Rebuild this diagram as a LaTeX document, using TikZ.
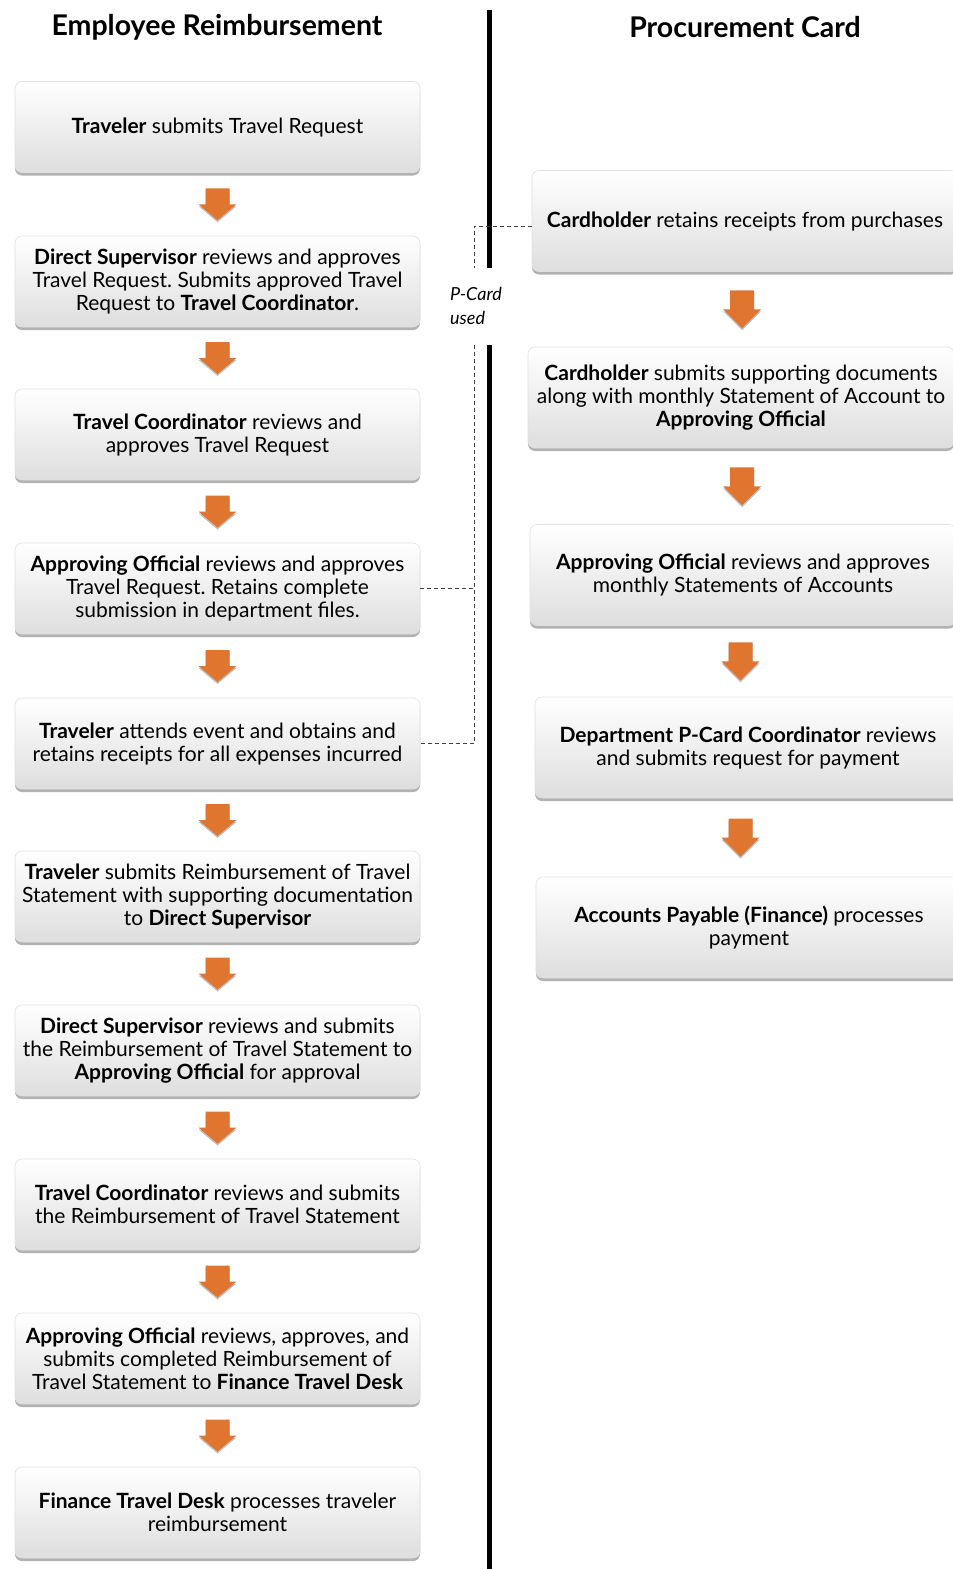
\documentclass[tikz,border=0pt]{standalone}
\usepackage{fontspec}
\setmainfont{Lato}
\usetikzlibrary{calc,shadows}
\definecolor{arroworange}{HTML}{E07530}
\frenchspacing
\tikzset{
  stepbox/.style={rounded corners=7pt, draw=black!12, line width=0.6pt,
    top color=white, bottom color=black!13, align=center, inner sep=2pt,
    font=\fontsize{21}{23}\selectfont,
    drop shadow={shadow xshift=0pt, shadow yshift=-3pt, opacity=0.3, fill=black}},
  leftbox/.style={stepbox, minimum width=405pt, minimum height=91pt},
  rightbox/.style={stepbox, minimum width=426pt, minimum height=101pt},
  arrowfill/.style={fill=arroworange,
    drop shadow={shadow xshift=0pt, shadow yshift=-2pt, opacity=0.25, fill=black}},
  dashline/.style={draw=black!75, line width=0.9pt, dash pattern=on 4pt off 3pt},
  heading/.style={font=\fontsize{28.5}{32}\selectfont\bfseries},
}
% block arrow between two named nodes: from, to, x offset, half height
\newcommand{\blockarrow}[4]{%
  \coordinate (am) at ($(#1.south)!0.5!(#2.north)+(#3pt,0)$);
  \fill[arrowfill] ([shift={(-12pt,#4pt)}]am) -- ([shift={(12pt,#4pt)}]am)
    -- ([shift={(12pt,0pt)}]am) -- ([shift={(19pt,0pt)}]am)
    -- ([shift={(0pt,-#4pt)}]am) -- ([shift={(-19pt,0pt)}]am)
    -- ([shift={(-12pt,0pt)}]am) -- cycle;
}
\begin{document}
\begin{tikzpicture}[x=1pt,y=-1pt]
\useasboundingbox (0,0) rectangle (953,1569);
\clip (0,0) rectangle (953,1569);
\fill[white] (0,0) rectangle (953,1569);

% headings
\node[heading] (hL) at (217,27) {Employee Reimbursement};
\node[heading] (hR) at (745,27) {Procurement Card};

% divider
\coordinate (divA) at (489,10);
\coordinate (divB) at (489,268);
\coordinate (divC) at (489,345);
\coordinate (divD) at (489,1569);
\draw[line width=5pt] (divA) -- (divB);
\draw[line width=5pt] (divC) -- (divD);

% left column
\node[leftbox] (L1) at (217.5,127) {\textbf{Traveler} submits Travel Request};
\node[leftbox] (L2) at (217.5,281.5) {\textbf{Direct Supervisor} reviews and approves\\Travel Request. Submits approved Travel\\Request to \textbf{Travel Coordinator}.};
\node[leftbox] (L3) at (217.5,434.5) {\textbf{Travel Coordinator} reviews and\\approves Travel Request};
\node[leftbox] (L4) at (217.5,588.5) {\textbf{Approving Official} reviews and approves\\Travel Request. Retains complete\\submission in department files.};
\node[leftbox] (L5) at (217.5,743.5) {\textbf{Traveler} attends event and obtains and\\retains receipts for all expenses incurred};
\node[leftbox] (L6) at (217.5,896.5) {\textbf{Traveler} submits Reimbursement of Travel\\Statement with supporting documentation\\to \textbf{Direct Supervisor}};
\node[leftbox] (L7) at (217.5,1050.5) {\textbf{Direct Supervisor} reviews and submits\\the Reimbursement of Travel Statement to\\\textbf{Approving Official} for approval};
\node[leftbox] (L8) at (217.5,1204.5) {\textbf{Travel Coordinator} reviews and submits\\the Reimbursement of Travel Statement};
\node[leftbox] (L9) at (217.5,1358.5) {\textbf{Approving Official} reviews, approves, and\\submits completed Reimbursement of\\Travel Statement to \textbf{Finance Travel Desk}};
\node[leftbox] (L10) at (217.5,1512.5) {\textbf{Finance Travel Desk} processes traveler\\reimbursement};

% right column
\node[rightbox] (R1) at (745,221) {\textbf{Cardholder} retains receipts from purchases};
\node[rightbox] (R2) at (741,397.5) {\textbf{Cardholder} submits supporting documents\\along with monthly Statement of Account to\\\textbf{Approving Official}};
\node[rightbox] (R3) at (743,575) {\textbf{Approving Official} reviews and approves\\monthly Statements of Accounts};
\node[rightbox] (R4) at (748,747.5) {\textbf{Department P-Card Coordinator} reviews\\and submits request for payment};
\node[rightbox] (R5) at (749,927.5) {\textbf{Accounts Payable (Finance)} processes\\payment};

% block arrows
\blockarrow{L1}{L2}{0}{16}
\blockarrow{L2}{L3}{0}{16}
\blockarrow{L3}{L4}{0}{16}
\blockarrow{L4}{L5}{0}{16}
\blockarrow{L5}{L6}{0}{16}
\blockarrow{L6}{L7}{0}{16}
\blockarrow{L7}{L8}{0}{16}
\blockarrow{L8}{L9}{0}{16}
\blockarrow{L9}{L10}{0}{16}
\blockarrow{R1}{R2}{-1}{19}
\blockarrow{R2}{R3}{0}{19}
\blockarrow{R3}{R4}{-5}{19}
\blockarrow{R4}{R5}{-8}{19}

% P-Card used link
\node[font=\fontsize{18}{24}\selectfont\itshape, align=left, anchor=west, inner sep=0pt] (pc) at (450,306) {P-Card\\used};
\coordinate (pcTop) at (474,268);
\coordinate (pcBot) at (474,345);
\draw[dashline] ([yshift=-5pt]R1.west) -| (pcTop);
\draw[dashline] (pcBot) |- (L5.east);
\draw[dashline] (L4.east) -- (L4.east -| pcBot);
\end{tikzpicture}
\end{document}
